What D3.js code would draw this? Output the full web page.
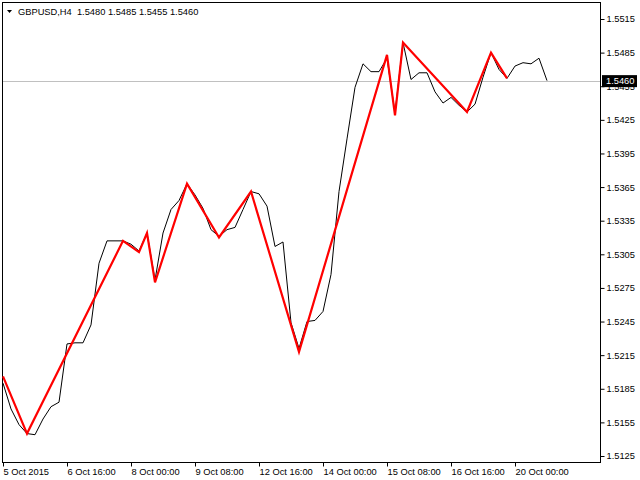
<!DOCTYPE html>
<html>
<head>
<meta charset="utf-8">
<script src="https://cdn.jsdelivr.net/npm/d3@7"></script>
<style>
  html, body { margin: 0; padding: 0; background: #ffffff; }
  svg { display: block; }
  text { font-family: "Liberation Sans", Arial, sans-serif; }
</style>
</head>
<body>
<script>
// ---- data ----
const symbolName = "GBPUSD,H4";
const ohlc = [1.5480, 1.5485, 1.5455, 1.5460];
const lastPrice = 1.5460;

// H4 close prices (one per bar)
const closes = [
  1.5190, 1.5167, 1.5153, 1.5145, 1.5144, 1.5158, 1.5169, 1.5173,
  1.5225, 1.5226, 1.5226, 1.5242, 1.5297, 1.5317, 1.5317, 1.5317,
  1.5314, 1.5308, 1.5324, 1.5282, 1.5324, 1.5345, 1.5353, 1.5368,
  1.5358, 1.5346, 1.5327, 1.5321, 1.5327, 1.5329, 1.5345, 1.5361,
  1.5359, 1.5348, 1.5312, 1.5316, 1.5244, 1.5221, 1.5245, 1.5246,
  1.5254, 1.5287, 1.5361, 1.5408, 1.5454, 1.5475, 1.5468, 1.5468,
  1.5480, 1.5431, 1.5494, 1.5461, 1.5467, 1.5467, 1.5450, 1.5440,
  1.5445, 1.5438, 1.5432, 1.5439, 1.5463, 1.5485, 1.5470, 1.5462,
  1.5473, 1.5476, 1.5475, 1.5480, 1.5460
];

// ZigZag turning points (bar index, price)
const zigzagIdx  = [0, 3, 15, 17, 18, 19, 23, 27, 31, 37, 48, 49, 50, 58, 61, 63];
const zigzagVals = [1.5196, 1.5145, 1.5317, 1.5307, 1.5324, 1.5280, 1.5368, 1.5320,
                    1.5361, 1.5218, 1.5483, 1.5429, 1.5494, 1.5432, 1.5485, 1.5462];

const priceTicks = [1.5515, 1.5485, 1.5455, 1.5425, 1.5395, 1.5365, 1.5335,
                    1.5305, 1.5275, 1.5245, 1.5215, 1.5185, 1.5155, 1.5125];

const timeLabels = ["5 Oct 2015", "6 Oct 16:00", "8 Oct 00:00", "9 Oct 08:00",
                    "12 Oct 16:00", "14 Oct 00:00", "15 Oct 08:00", "16 Oct 16:00", "20 Oct 00:00"];
const timeLabelIdx = [0, 8, 16, 24, 32, 40, 48, 56, 64];

// ---- layout ----
const W = 640, H = 480;
const plotL = 2, plotT = 2, plotR = 600, plotB = 462;

const svg = d3.select("body").append("svg")
  .attr("width", W).attr("height", H);

const x = d3.scaleLinear().domain([0, closes.length - 1]).range([3, 547]);
const y = d3.scaleLinear().domain([1.5125, 1.5515]).range([456, 19]);

// frame
svg.append("rect")
  .attr("x", plotL + 0.5).attr("y", plotT + 0.5)
  .attr("width", plotR - plotL).attr("height", plotB - plotT)
  .attr("fill", "#ffffff").attr("stroke", "#000000").attr("stroke-width", 1);

// price axis (right)
const yAxis = d3.axisRight(y)
  .tickValues(priceTicks)
  .tickFormat(d3.format(".4f"))
  .tickSize(4).tickSizeOuter(0);
const gy = svg.append("g")
  .attr("transform", `translate(${plotR + 0.5},0)`)
  .call(yAxis);
gy.select(".domain").remove();
gy.selectAll(".tick line").attr("stroke", "#000");
gy.selectAll(".tick text")
  .attr("x", 6)
  .attr("fill", "#000")
  .style("font-size", "9.3px")
  .style("font-family", "'Liberation Sans', Arial, sans-serif");

// time axis (bottom)
const xAxis = d3.axisBottom(x)
  .tickValues(timeLabelIdx)
  .tickFormat((d, i) => timeLabels[i])
  .tickSize(4).tickSizeOuter(0);
const gx = svg.append("g")
  .attr("transform", `translate(0,${plotB + 0.5})`)
  .call(xAxis);
gx.select(".domain").remove();
gx.selectAll(".tick line").attr("stroke", "#000");
gx.selectAll(".tick text")
  .attr("text-anchor", "start")
  .attr("x", 0)
  .attr("y", 6)
  .attr("fill", "#000")
  .style("font-size", "9.3px")
  .style("font-family", "'Liberation Sans', Arial, sans-serif");

// right axis line
svg.append("line")
  .attr("x1", plotR + 0.5).attr("x2", plotR + 0.5)
  .attr("y1", plotT).attr("y2", plotB + 1)
  .attr("stroke", "#000");

// bid line
svg.append("line")
  .attr("x1", plotL + 1).attr("x2", plotR)
  .attr("y1", Math.round(y(lastPrice)) + 0.5).attr("y2", Math.round(y(lastPrice)) + 0.5)
  .attr("stroke", "#c0c0c0").attr("stroke-width", 1);

// close line
const line = d3.line().x((d, i) => x(i)).y(d => y(d));
svg.append("path")
  .datum(closes)
  .attr("d", line)
  .attr("fill", "none")
  .attr("stroke", "#000000")
  .attr("stroke-width", 1);

// zigzag
const zz = zigzagIdx.map((d, i) => [d, zigzagVals[i]]);
svg.append("path")
  .datum(zz)
  .attr("d", d3.line().x(d => x(d[0])).y(d => y(d[1])))
  .attr("fill", "none")
  .attr("stroke", "#ff0000")
  .attr("stroke-width", 2.2)
  .attr("stroke-linejoin", "miter");

// last price label box
const ly = y(lastPrice);
svg.append("rect")
  .attr("x", 602).attr("y", ly - 5.5)
  .attr("width", 35).attr("height", 12)
  .attr("fill", "#000");
svg.append("text")
  .attr("x", 606).attr("y", ly + 0.5)
  .attr("dy", "0.35em")
  .attr("fill", "#fff")
  .style("font-size", "9.3px")
  .text(d3.format(".4f")(lastPrice));

// title
svg.append("path")
  .attr("d", "M7,10 L12,10 L9.5,13 Z")
  .attr("fill", "#000");
svg.append("text")
  .attr("x", 18).attr("y", 15)
  .attr("fill", "#000")
  .style("font-size", "9.3px")
  .attr("xml:space", "preserve")
  .style("white-space", "pre")
  .text(symbolName + "  " + ohlc.map(d3.format(".4f")).join(" "));
</script>
</body>
</html>
